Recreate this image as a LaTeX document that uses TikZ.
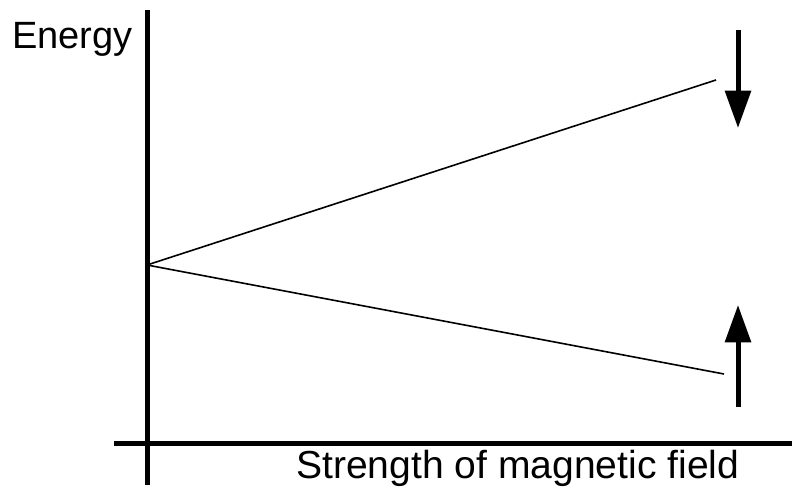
\documentclass[tikz,border=0pt]{standalone}
\usepackage{fontspec}
\setmainfont{Liberation Sans}
\usetikzlibrary{arrows.meta}

\begin{document}
\begin{tikzpicture}[
  x=0.75pt, y=-0.75pt,
  font=\fontsize{28.5}{32}\selectfont,
  axis/.style={line width=3.75pt},
  level/.style={line width=1.2pt},
  spin/.style={line width=3.75pt, -{Triangle[width=19pt,length=28pt]}},
  axislabel/.style={anchor=base west, inner sep=0pt}
]
  \useasboundingbox (0,0) rectangle (792,491);

  % axes
  \coordinate (ytop) at (147,10);
  \coordinate (ybot) at (147,485);
  \coordinate (xleft) at (114,443);
  \coordinate (xright) at (792,443);
  \draw[axis] (ybot) -- (ytop);
  \draw[axis] (xleft) -- (xright);

  \node[axislabel] (energy) at (12,49) {Energy};
  \node[axislabel, font=\fontsize{29.3}{32}\selectfont] (field) at (296,478) {Strength of magnetic field};

  % split levels
  \coordinate (zero) at (147,265);
  \coordinate (upper) at (716,80);
  \coordinate (lower) at (724,374);
  \draw[level] (zero) -- (upper);
  \draw[level] (zero) -- (lower);

  % spins
  \coordinate (downtail) at (738,30);
  \coordinate (downtip) at (738,128);
  \coordinate (uptail) at (738,407);
  \coordinate (uptip) at (738,305);
  \draw[spin] (downtail) -- (downtip);
  \draw[spin] (uptail) -- (uptip);

\end{tikzpicture}
\end{document}
